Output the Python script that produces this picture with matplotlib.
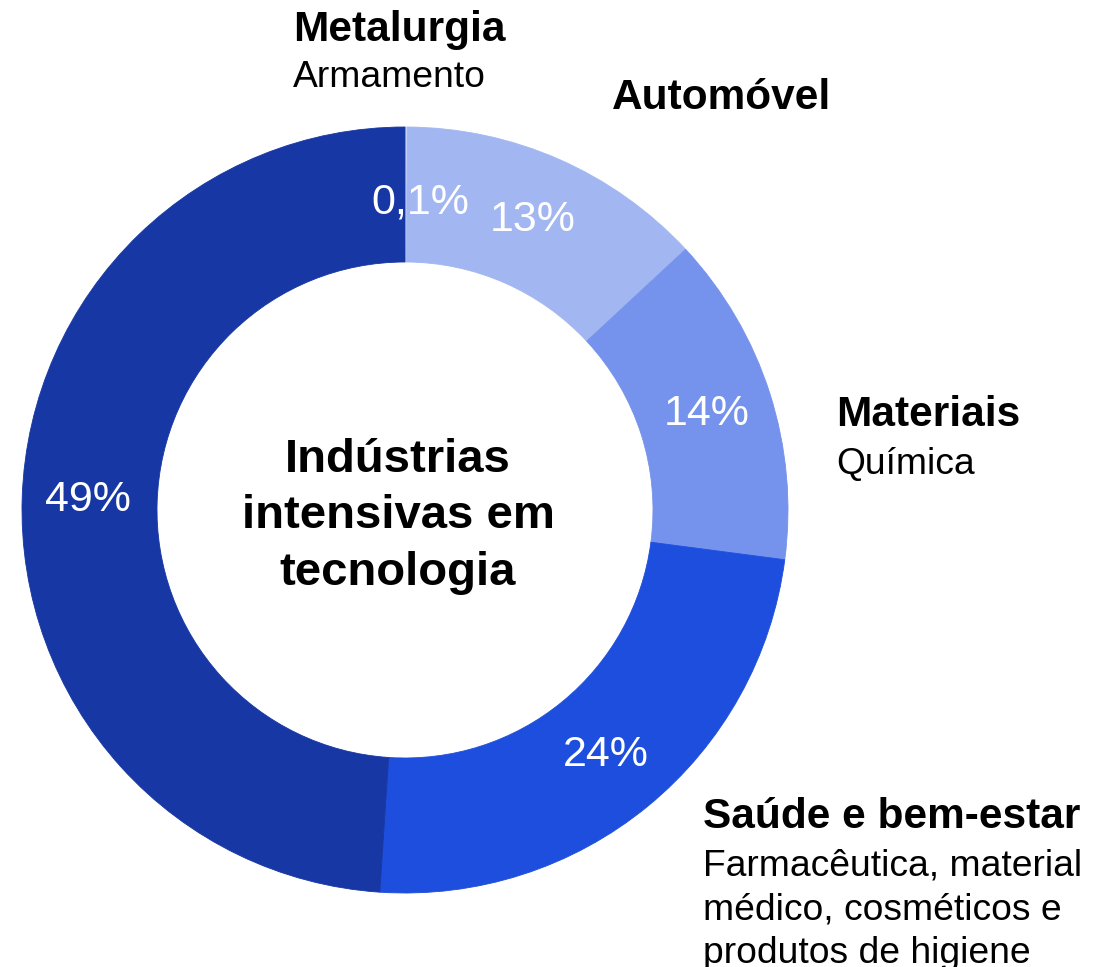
import matplotlib.pyplot as plt
import numpy as np

plt.rcParams['font.family'] = ['Liberation Sans', 'DejaVu Sans']

# dados do grafico
valores = [0.1, 13, 14, 24, 49]
rotulos_pct = ["0,1%", "13%", "14%", "24%", "49%"]
cores = ["#C8D3F5", "#A2B6F1", "#7593EC", "#1D4EDD", "#1637A4"]
setores = ["Metalurgia", "Automóvel", "Materiais", "Saúde e bem-estar"]
subtitulos = [["Armamento"], [], ["Química"],
              ["Farmacêutica, material", "médico, cosméticos e", "produtos de higiene"]]
centro = ["Indústrias", "intensivas em", "tecnologia"]

# layout em pixels (y de cima para baixo)
W, H = 1107, 967
cx, cy = 405, 510
r_ext, r_int = 383, 248
r_pct = 317
pos_setor = [(293, 41), (612, 109), (836, 426), (703, 828)]
passo_sub = [46, 0, 48, 47]
passo_linha = 44

fig = plt.figure(figsize=(W / 100, H / 100), dpi=100)
ax = fig.add_axes([0, 0, 1, 1])

# eixo y invertido: startangle=-90 + anti-horario = horario a partir do topo
wedges, _ = ax.pie(valores, colors=cores, center=(cx, cy), radius=r_ext,
                   startangle=-90, counterclock=True,
                   wedgeprops=dict(width=r_ext - r_int, linewidth=0.6))
for w, c in zip(wedges, cores):
    w.set_edgecolor(c)
ax.set_xlim(0, W)
ax.set_ylim(H, 0)
ax.axis('off')

# percentuais
for i, (w, s) in enumerate(zip(wedges, rotulos_pct)):
    t = np.deg2rad((w.theta1 + w.theta2) / 2)
    x, y = cx + r_pct * np.cos(t), cy + r_pct * np.sin(t)
    if i == 0:
        x, y = x + 14, y + 9
    ax.text(x, y, s, color="white", fontsize=31, ha="center", va="center")

# nomes dos setores
for (x, y), nome, subs, ps in zip(pos_setor, setores, subtitulos, passo_sub):
    ax.text(x, y, nome, fontsize=30.5, fontweight="bold", ha="left", va="baseline")
    for k, s in enumerate(subs):
        ax.text(x, y + ps + k * passo_linha, s, fontsize=26.8, ha="left", va="baseline")

# texto central
for k, s in enumerate(centro):
    ax.text(398, 472 + k * 56.5, s, fontsize=34, fontweight="bold", ha="center", va="baseline")

fig.savefig("out.png", dpi=100)
